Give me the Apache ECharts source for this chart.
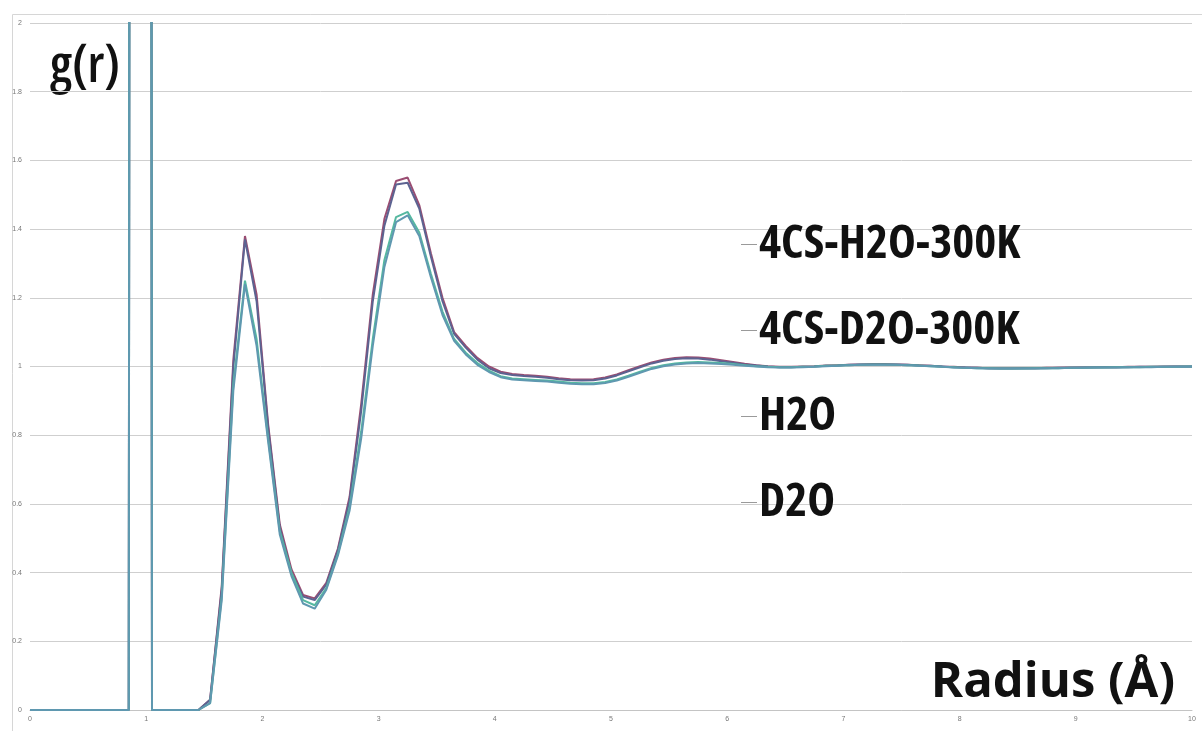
<!DOCTYPE html>
<html>
<head>
<meta charset="utf-8">
<script src="https://cdn.jsdelivr.net/npm/echarts@6/dist/echarts.min.js"></script>
<style>
html,body{margin:0;padding:0;background:#fff;}
#chart{width:1202px;height:731px;}
</style>
</head>
<body>
<div id="chart"></div>
<script>
// Radius (Å) – bin centres
const radius = [0,0.05,0.15,0.25,0.35,0.45,0.55,0.65,0.75,0.85,0.95,1.05,1.15,1.25,1.35,1.45,1.55,1.65,1.75,1.85,1.95,
2.05,2.15,2.25,2.35,2.45,2.55,2.65,2.75,2.85,2.95,3.05,3.15,3.25,3.35,3.45,3.55,3.65,3.75,3.85,3.95,
4.05,4.15,4.25,4.35,4.45,4.55,4.65,4.75,4.85,4.95,5.05,5.15,5.25,5.35,5.45,5.55,5.65,5.75,5.85,5.95,
6.05,6.15,6.25,6.35,6.45,6.55,6.65,6.75,6.85,6.95,7.05,7.15,7.25,7.35,7.45,7.55,7.65,7.75,7.85,7.95,
8.05,8.15,8.25,8.35,8.45,8.55,8.65,8.75,8.85,8.95,9.05,9.15,9.25,9.35,9.45,9.55,9.65,9.75,9.85,9.95,10];

const seriesNames = ['4CS-H2O-300K','4CS-D2O-300K','H2O','D2O'];

const g4csH2O = [0,0,0,0,0,0,0,0,0,0,
50,0,0,0,0,0,
0.03,0.36,1.02,1.38,1.21,
0.83,0.54,0.41,0.335,0.325,0.37,0.47,0.62,0.89,1.21,
1.43,1.54,1.55,1.47,1.33,1.20,1.10,1.06,1.025,1.0,
0.985,0.978,0.975,0.973,0.97,0.966,0.963,0.962,0.963,0.968,
0.977,0.989,1.001,1.012,1.02,1.025,1.027,1.026,1.023,1.018,
1.013,1.008,1.004,1.001,0.999,0.999,1.0,1.001,1.003,1.004,
1.005,1.006,1.007,1.007,1.006,1.005,1.004,1.002,1.0,0.999,
0.997,0.996,0.995,0.995,0.995,0.995,0.995,0.996,0.996,0.997,
0.997,0.998,0.998,0.998,0.999,0.999,0.999,1.0,1.0,1.0,
1.0];

const g4csD2O = [0,0,0,0,0,0,0,0,0,0,
48,0,0,0,0,0,
0.03,0.35,1.00,1.37,1.19,
0.82,0.53,0.40,0.33,0.32,0.365,0.465,0.61,0.87,1.19,
1.41,1.53,1.535,1.46,1.32,1.19,1.095,1.055,1.02,0.995,
0.981,0.975,0.972,0.97,0.967,0.963,0.96,0.959,0.96,0.965,
0.974,0.986,0.998,1.009,1.017,1.022,1.024,1.023,1.02,1.015,
1.011,1.006,1.003,1.0,0.998,0.998,0.999,1.0,1.002,1.003,
1.005,1.006,1.006,1.006,1.006,1.005,1.003,1.002,1.0,0.998,
0.997,0.996,0.995,0.994,0.994,0.995,0.995,0.995,0.996,0.996,
0.997,0.997,0.998,0.998,0.998,0.999,0.999,0.999,1.0,1.0,
1.0];

const gH2O = [0,0,0,0,0,0,0,0,0,0,
45,0,0,0,0,0,
0.02,0.33,0.95,1.25,1.08,
0.79,0.52,0.40,0.32,0.305,0.355,0.455,0.59,0.81,1.08,
1.31,1.435,1.45,1.39,1.27,1.16,1.08,1.04,1.01,0.988,
0.972,0.965,0.963,0.961,0.959,0.956,0.953,0.951,0.951,0.955,
0.962,0.973,0.985,0.996,1.004,1.009,1.012,1.013,1.012,1.01,
1.007,1.004,1.001,0.999,0.998,0.998,0.999,1.0,1.002,1.003,
1.004,1.005,1.006,1.006,1.005,1.004,1.003,1.001,0.999,0.998,
0.996,0.995,0.995,0.994,0.994,0.994,0.995,0.995,0.995,0.996,
0.996,0.997,0.997,0.998,0.998,0.998,0.999,0.999,0.999,1.0,
1.0];

const gD2O = [0,0,0,0,0,0,0,0,0,0,
45,0,0,0,0,0,
0.02,0.32,0.93,1.24,1.06,
0.78,0.51,0.39,0.31,0.295,0.35,0.45,0.58,0.79,1.06,
1.29,1.42,1.44,1.38,1.26,1.15,1.075,1.035,1.005,0.984,
0.969,0.962,0.96,0.958,0.956,0.953,0.95,0.948,0.948,0.952,
0.959,0.97,0.982,0.993,1.001,1.006,1.009,1.01,1.009,1.007,
1.005,1.002,1.0,0.998,0.997,0.997,0.998,0.999,1.001,1.002,
1.004,1.005,1.005,1.005,1.005,1.004,1.002,1.001,0.999,0.997,
0.996,0.995,0.994,0.994,0.994,0.994,0.994,0.995,0.995,0.996,
0.996,0.997,0.997,0.997,0.998,0.998,0.998,0.999,0.999,0.999,
1.0];

const yTicks = {min: 0, max: 2, interval: 0.2};
const xTicks = {min: 0, max: 10, interval: 1};

const colors = ['#9a4d72', '#5c6391', '#55b8a0', '#5f98b0'];
const allValues = [g4csH2O, g4csD2O, gH2O, gD2O];

const FONT = '"Open Sans", sans-serif';

const chart = echarts.init(document.getElementById('chart'), null, {renderer: 'canvas'});
chart.setOption({
  animation: false,
  backgroundColor: '#ffffff',
  color: colors,
  grid: {left: 30, right: 10, top: 23, bottom: 21, containLabel: false},
  xAxis: {
    type: 'value', min: xTicks.min, max: xTicks.max, interval: xTicks.interval,
    axisLine: {show: true, lineStyle: {color: '#c4c4c4', width: 1}},
    axisTick: {show: false},
    splitLine: {show: false},
    axisLabel: {fontSize: 7, color: '#777', margin: 6, fontFamily: 'Liberation Sans'}
  },
  yAxis: {
    type: 'value', min: yTicks.min, max: yTicks.max, interval: yTicks.interval,
    axisLine: {show: false},
    axisTick: {show: false},
    splitLine: {show: true, lineStyle: {color: '#cfcfcf', width: 1}},
    axisLabel: {fontSize: 7, color: '#777', margin: 8, fontFamily: 'Liberation Sans'}
  },
  legend: {
    orient: 'vertical', left: 736, top: 216, itemGap: 39,
    icon: 'rect', itemWidth: 16, itemHeight: 1,
    itemStyle: {color: '#9a9a9a'},
    textStyle: {fontSize: 47, color: '#111', fontFamily: FONT, fontStyle: 'semi-condensed', fontWeight: 'bold', padding: [0,0,0,-3]},
    data: seriesNames
  },
  graphic: [
    {type: 'rect', left: 10, top: 12, shape: {width: 1220, height: 760}, style: {fill: 'none', stroke: '#d6d6d6', lineWidth: 1}, silent: true, z: -1},
    {type: 'text', left: 50, top: 41, style: {text: 'g(r)', font: 'semi-condensed 600 52px ' + FONT, fill: '#111'}},
    {type: 'text', right: 27, top: 659, style: {text: 'Radius (Å)', font: 'bold 49px ' + FONT, fill: '#111'}}
  ],
  series: seriesNames.map((name, i) => ({
    name: name,
    type: 'line',
    data: radius.map((r, k) => [r, allValues[i][k]]),
    showSymbol: false,
    clip: true,
    lineStyle: {width: 2, color: colors[i]},
    itemStyle: {color: colors[i]}
  }))
});
</script>
</body>
</html>
